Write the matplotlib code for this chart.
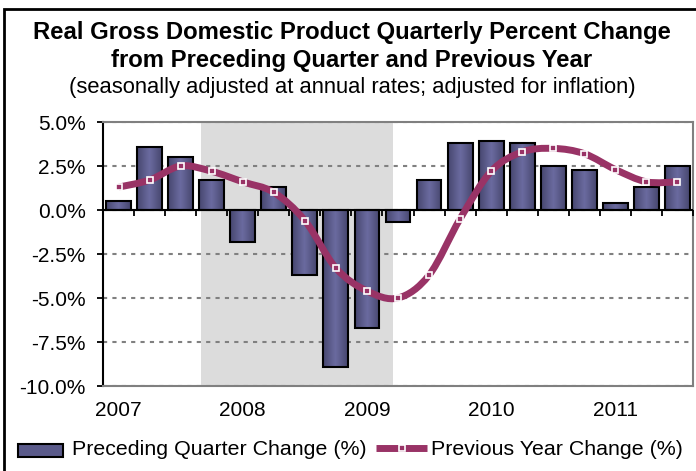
import numpy as np
import matplotlib
matplotlib.use("Agg")
import matplotlib.pyplot as plt
from matplotlib.path import Path
from matplotlib.patches import PathPatch, Rectangle
from matplotlib.lines import Line2D
from matplotlib.colors import LinearSegmentedColormap
import matplotlib.transforms as mtransforms

plt.rcParams['font.family'] = ['Liberation Sans', 'DejaVu Sans']

# Real GDP, 2007Q1 - 2011Q3, percent change at annual rates
years = ['2007', '2008', '2009', '2010', '2011']
qtr_change = [0.5, 3.6, 3.0, 1.7, -1.8, 1.3, -3.7, -8.9, -6.7, -0.7,
              1.7, 3.8, 3.9, 3.8, 2.5, 2.3, 0.4, 1.3, 2.5]
yoy_change = [1.3, 1.7, 2.5, 2.2, 1.6, 1.0, -0.6, -3.3, -4.6, -5.0,
              -3.7, -0.5, 2.2, 3.3, 3.5, 3.2, 2.3, 1.6, 1.6]
# recession band (Dec 2007 - Jun 2009) in quarter-index units
recession = (2.66, 8.83)

W, H = 696, 471
PLUM = '#993366'
fig = plt.figure(figsize=(W / 100, H / 100), dpi=100)
ax = fig.add_axes([103 / W, 1 - 386 / H, 590 / W, 264 / H])

x = np.arange(len(qtr_change))
bw = 0.8

ax.axvspan(*recession, color='#dcdcdc', lw=0, zorder=0.5)

# shaded bars: horizontal gradient clipped to each bar
cmap = LinearSegmentedColormap.from_list('bar', ['#47476f', '#6b6ba0', '#47476f'])
grad = np.linspace(0, 1, 64).reshape(1, -1)
for xi, v in zip(x, qtr_change):
    ax.imshow(grad, extent=(xi - bw / 2, xi + bw / 2, min(0, v), max(0, v)),
              aspect='auto', cmap=cmap, zorder=2, interpolation='bilinear')
ax.bar(x, qtr_change, width=bw, fill=False, edgecolor='black', lw=1.5, zorder=3)

# zero line with downward ticks between quarters
ax.axhline(0, color='black', lw=1.5, zorder=4)
ax.plot(np.arange(len(x)) + 0.5, np.zeros(len(x)), ls='none', marker=3,
        ms=4.5, mew=1.3, color='black', zorder=4)

# smoothed year-over-year line (cardinal spline as cubic beziers)
pts = np.column_stack([x, yoy_change]).astype(float)
ext = np.vstack([pts[0], pts, pts[-1]])
verts = [pts[0]]
codes = [Path.MOVETO]
for i in range(len(pts) - 1):
    p0, p1, p2, p3 = ext[i], ext[i + 1], ext[i + 2], ext[i + 3]
    verts += [p1 + (p2 - p0) / 6, p2 - (p3 - p1) / 6, p2]
    codes += [Path.CURVE4] * 3
ax.add_patch(PathPatch(Path(verts, codes), fill=False, edgecolor=PLUM,
                       lw=5, capstyle='butt', zorder=5))
ax.plot(x, yoy_change, ls='none', marker='s', ms=4.2, mfc=PLUM, mec='white',
        mew=1.2, zorder=6)

ax.set_xlim(-0.5, len(x) - 0.5)
ax.set_ylim(-10, 5)
yt = np.arange(-10, 5.1, 2.5)
ax.set_yticks(yt)
ax.set_yticklabels([f'{v:.1f}%' for v in yt])
ax.set_xticks([])
ax.tick_params(axis='y', direction='out', length=4.5, width=1.3, pad=8,
               labelsize=15, colors='black')
ax.yaxis.grid(True, color='#808080', ls=(0, (2, 2.5)), lw=1.5)
for side in ['top', 'right', 'bottom']:
    ax.spines[side].set_color('#808080')
    ax.spines[side].set_linewidth(1.5)
ax.spines['left'].set_color('black')
ax.spines['left'].set_linewidth(1.5)

# year labels under each first quarter
trans = mtransforms.blended_transform_factory(ax.transData, fig.transFigure)
for i, yr in enumerate(years):
    ax.text(i * 4, 1 - 410.5 / H, yr, transform=trans, ha='center',
            va='center', fontsize=15)

# titles
cx = 352 / W
fig.text(cx, 1 - 32 / H, 'Real Gross Domestic Product Quarterly Percent Change',
         ha='center', va='center', fontsize=17.2, weight='bold')
fig.text(cx, 1 - 61 / H, 'from Preceding Quarter and Previous Year',
         ha='center', va='center', fontsize=17.2, weight='bold')
fig.text(cx, 1 - 88 / H, '(seasonally adjusted at annual rates; adjusted for inflation)',
         ha='center', va='center', fontsize=15.8)

# legend
ly = 1 - 449.5 / H
fig.add_artist(Rectangle((18 / W, 1 - 457 / H), 45 / W, 13 / H,
                         transform=fig.transFigure, facecolor='#5a5a8a',
                         edgecolor='black', lw=1.5))
fig.text(72 / W, ly, 'Preceding Quarter Change (%)', ha='left', va='center',
         fontsize=15.4)
fig.add_artist(Line2D([376 / W, 427 / W], [1 - 447.7 / H] * 2, color=PLUM,
                      lw=5, solid_capstyle='butt', transform=fig.transFigure))
fig.add_artist(Line2D([401.5 / W], [1 - 447.7 / H], ls='none', marker='s',
                      ms=4.2, mfc=PLUM, mec='white', mew=1.2,
                      transform=fig.transFigure))
fig.text(431 / W, ly, 'Previous Year Change (%)', ha='left', va='center',
         fontsize=15.4)

# outer frame
fig.add_artist(Rectangle((4 / W, -0.1), 1.1, 1 - 9 / H + 0.1,
                         transform=fig.transFigure, fill=False,
                         edgecolor='black', lw=2, clip_on=False))

fig.savefig('out.png', dpi=100)
